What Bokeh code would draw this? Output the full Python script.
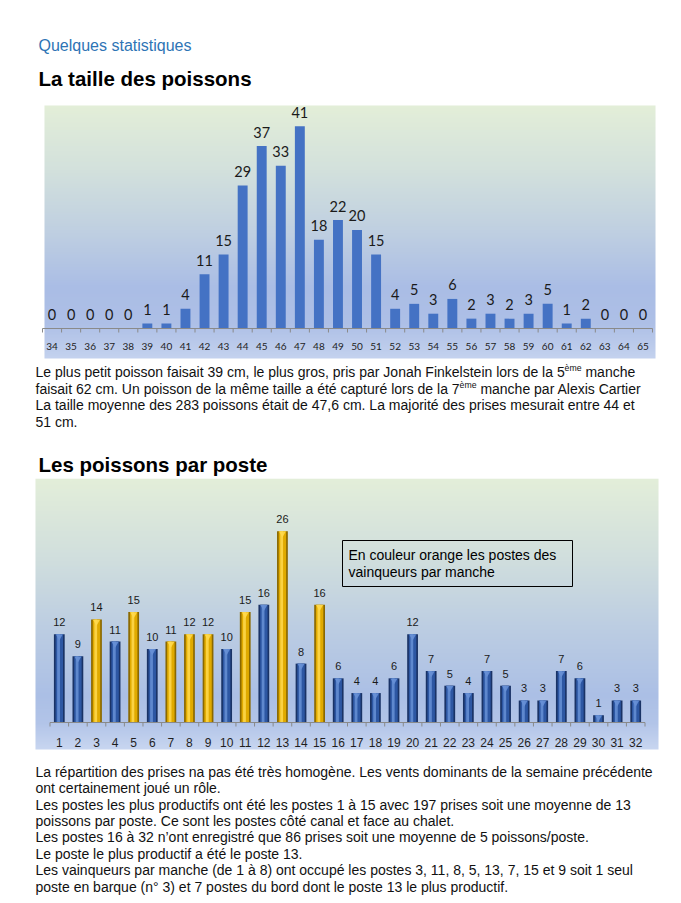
import unicodedata
import numpy as np
from bokeh.plotting import figure
from bokeh.models import Range1d, FactorRange, ColumnDataSource
from bokeh.transform import dodge
from bokeh.layouts import column
from bokeh.core.properties import value
from bokeh.embed import file_html
from bokeh.resources import INLINE

# ---------------- data ----------------
size_cm = ["34", "35", "36", "37", "38", "39", "40", "41", "42", "43", "44", "45", "46", "47", "48", "49",
           "50", "51", "52", "53", "54", "55", "56", "57", "58", "59", "60", "61", "62", "63", "64", "65"]
fish_count = [0, 0, 0, 0, 0, 1, 1, 4, 11, 15, 29, 37, 33, 41, 18, 22,
              20, 15, 4, 5, 3, 6, 2, 3, 2, 3, 5, 1, 2, 0, 0, 0]

postes = ["1", "2", "3", "4", "5", "6", "7", "8", "9", "10", "11", "12", "13", "14", "15", "16",
          "17", "18", "19", "20", "21", "22", "23", "24", "25", "26", "27", "28", "29", "30", "31", "32"]
fish_per_poste = [12, 9, 14, 11, 15, 10, 11, 12, 12, 10, 15, 16, 26, 8, 16, 6,
                  4, 4, 6, 12, 7, 5, 4, 7, 5, 3, 3, 7, 6, 1, 3, 3]
winner_postes = [3, 11, 8, 5, 13, 7, 15, 9]

page_kicker = "Quelques statistiques"
title_sizes = "La taille des poissons"
title_postes = "Les poissons par poste"
note_box = ["En couleur orange les postes des", "vainqueurs par manche"]

para1 = [
    [("Le plus petit poisson faisait 39 cm, le plus gros, pris par Jonah Finkelstein lors de la 5", 0),
     ("ème", 1), (" manche", 0)],
    [("faisait 62 cm. Un poisson de la même taille a été capturé lors de la 7", 0),
     ("ème", 1), (" manche par Alexis Cartier", 0)],
    [("La taille moyenne des 283 poissons était de 47,6 cm. La majorité des prises mesurait entre 44 et", 0)],
    [("51 cm.", 0)],
]
para2 = [
    "La répartition des prises na pas été très homogène. Les vents dominants de la semaine précédente",
    "ont certainement joué un rôle.",
    "Les postes les plus productifs ont été les postes 1 à 15 avec 197 prises soit une moyenne de 13",
    "poissons par poste. Ce sont les postes côté canal et face au chalet.",
    "Les postes 16 à 32 n’ont enregistré que 86 prises soit une moyenne de 5 poissons/poste.",
    "Le poste le plus productif a été le poste 13.",
    "Les vainqueurs par manche (de 1 à 8) ont occupé les postes 3, 11, 8, 5, 13, 7, 15 et 9 soit 1 seul",
    "poste en barque (n° 3) et 7 postes du bord dont le poste 13 le plus productif.",
]

# ---------------- layout constants (page pixels) ----------------
PAGE_W = 680
FL, FR = 30, 664          # common frame left / right for every figure
FONT = "Liberation Sans"
TXT = 14

_w = ([278, 278, 355, 556, 556, 889, 667, 191, 333, 333, 389, 584, 278, 333, 278, 278]
      + [556] * 10
      + [278, 278, 584, 584, 584, 556, 1015]
      + [667, 667, 722, 722, 667, 611, 778, 722, 278, 500, 667, 556, 833, 722, 778, 667, 778, 722, 667,
         611, 722, 667, 944, 667, 667, 611]
      + [278, 278, 278, 469, 556, 333]
      + [556, 556, 500, 556, 556, 278, 556, 556, 222, 222, 500, 222, 833, 556, 556, 556, 556, 333, 500,
         278, 556, 500, 722, 500, 500, 500]
      + [334, 260, 334, 584])
WIDTHS = {chr(32 + i): w for i, w in enumerate(_w)}
WIDTHS["’"] = 222
WIDTHS["°"] = 400


def text_width(s, size):
    tot = 0
    for c in s:
        b = unicodedata.normalize("NFD", c)[0]
        tot += WIDTHS.get(c, WIDTHS.get(b, 556))
    return tot * size / 1000.0


def text_fig(top, h):
    p = figure(width=PAGE_W, height=h, x_range=Range1d(FL, FR), y_range=Range1d(top + h, top),
               x_axis_location=None, y_axis_location=None, toolbar_location=None,
               output_backend="svg", min_border_left=FL, min_border_right=PAGE_W - FR,
               min_border_top=0, min_border_bottom=0, outline_line_color=None)
    p.grid.visible = False
    return p


def put(p, x, y, txt, size, color="#111111", bold=False, font=FONT):
    p.text(x=[x], y=[y], text=[txt], text_font=value(font), text_font_size=f"{size}px",
           text_color=color, text_baseline="middle", text_align="left",
           text_font_style="bold" if bold else "normal")


def put_rich(p, x, y, segs, size):
    for s, sup in segs:
        fs = round(size * 0.62, 1) if sup else size
        lead = len(s) - len(s.lstrip(" "))
        x += text_width(" " * lead, fs)      # SVG drops leading spaces: advance manually
        body = s.lstrip(" ")
        put(p, x, y - 4 if sup else y, body, fs)
        x += text_width(body, fs)


def hex2rgb(h):
    h = h.lstrip("#")
    return [int(h[i:i + 2], 16) for i in (0, 2, 4)]


def gradient(stops, n=300):
    img = np.zeros((n, 1), dtype=np.uint32)
    view = img.view(dtype=np.uint8).reshape((n, 1, 4))
    fr = [s[0] for s in stops]
    cols = np.array([hex2rgb(s[1]) for s in stops], dtype=float)
    for i in range(n):
        t = 1.0 - (i + 0.5) / n  # fraction from top
        for k in range(3):
            view[i, 0, k] = int(round(np.interp(t, fr, cols[:, k])))
        view[i, 0, 3] = 255
    return img


class Chart:
    """Bar chart whose frame spans page x FL..FR and page y top..top+h."""

    def __init__(self, factors, top, h, base, ppu_y, ppu_x):
        self.factors = factors
        self.top, self.h, self.base, self.ppu_y, self.ppu_x = top, h, base, ppu_y, ppu_x
        n = len(factors)
        self.pad = ((FR - FL) - n * ppu_x) / (2 * ppu_x)
        self.yr = (-(top + h - base) / ppu_y, (base - top) / ppu_y)
        p = figure(width=PAGE_W, height=h,
                   x_range=FactorRange(factors=factors, range_padding=self.pad,
                                       range_padding_units="absolute"),
                   y_range=Range1d(*self.yr), y_axis_location=None, x_axis_location="below",
                   toolbar_location=None, output_backend="svg",
                   min_border_left=FL, min_border_right=PAGE_W - FR, min_border_top=0,
                   min_border_bottom=0, outline_line_color=None, border_fill_color="white",
                   background_fill_color="white")
        p.grid.visible = False
        self.p = p
        self.ends = ColumnDataSource(dict(a=[factors[0]], b=[factors[-1]]))

    def xoff(self, x):
        # page x -> offset from the first factor centre (synthetic units)
        return (x - FL) / self.ppu_x - self.pad - 0.5

    def ydat(self, y):
        return (self.base - y) / self.ppu_y

    def background(self, x0, x1, y0, y1, stops):
        p = self.p
        src = ColumnDataSource(dict(a=[self.factors[0]], img=[gradient(stops)]))
        p.image_rgba(image="img", x=dodge("a", self.xoff(x0), range=p.x_range), y=self.ydat(y1),
                     dw=(x1 - x0) / self.ppu_x, dh=(y1 - y0) / self.ppu_y, source=src, level="image")

    def axis(self, font, size, standoff, color, tick_px):
        p = self.p
        ax = p.xaxis[0]
        ax.fixed_location = 0
        ax.axis_line_color = None
        ax.major_tick_line_color = None
        ax.minor_tick_line_color = None
        ax.major_label_standoff = standoff
        ax.major_label_text_font = font
        ax.major_label_text_font_size = size
        ax.major_label_text_color = color
        tl = tick_px / self.ppu_y
        cats = ColumnDataSource(dict(c=self.factors))
        gc = "#8a8a8a"
        p.segment(x0=dodge("a", -0.5, range=p.x_range), y0=0, x1=dodge("b", 0.5, range=p.x_range), y1=0,
                  source=self.ends, line_color=gc, line_width=1)
        p.segment(x0=dodge("c", -0.5, range=p.x_range), y0=0, x1=dodge("c", -0.5, range=p.x_range),
                  y1=-tl, source=cats, line_color=gc, line_width=1)
        p.segment(x0=dodge("b", 0.5, range=p.x_range), y0=0, x1=dodge("b", 0.5, range=p.x_range),
                  y1=-tl, source=self.ends, line_color=gc, line_width=1)


# ---------------- header (page y 0..104) ----------------
f1 = text_fig(0, 104)
put(f1, 38, 45, page_kicker, 16, color="#2e74b5")
put(f1, 38, 78, title_sizes, 20.5, color="#000000", bold=True)

# ---------------- chart 1 : sizes (page y 104..360) ----------------
c1 = Chart(size_cm, 104, 256, 328, 4.93, 610 / 32)
p1 = c1.p
c1.background(44, 655, 105, 358,
              [(0.0, "#e3eed8"), (0.25, "#d3e1dc"), (0.5, "#bfcfe1"), (0.72, "#aabde5"),
               (0.86, "#adbfe6"), (1.0, "#c4d2ee")])
src1 = ColumnDataSource(dict(cat=size_cm, n=fish_count, lab=[str(v) for v in fish_count]))
p1.vbar(x="cat", top="n", width=0.52, source=src1, fill_color="#4472c4", line_color=None)
p1.text(x="cat", y="n", text="lab", source=src1, y_offset=-14, text_align="center",
        text_baseline="middle", text_font=value("Lato"), text_font_size="14.5px", text_color="#1a1a1a")
c1.axis("Lato", "10px", 8, "#1e1e1e", 4)

# ---------------- paragraph 1 (page y 360..478) ----------------
f3 = text_fig(360, 118)
for yy, segs in zip([371, 388, 404, 421], para1):
    put_rich(f3, 35, yy, segs, TXT)
put(f3, 38, 464, title_postes, 20.5, color="#000000", bold=True)

# ---------------- chart 2 : postes (page y 478..750) ----------------
c2 = Chart(postes, 478, 272, 722, 7.36, 595 / 32)
p2 = c2.p
c2.background(35, 658, 478, 749,
              [(0.0, "#e3eed9"), (0.3, "#d0dedd"), (0.55, "#bccde2"), (0.8, "#abbfe5"),
               (0.9, "#b2c4e8"), (1.0, "#c8d6f0")])
is_win = [int(c) in winner_postes for c in postes]
src2 = ColumnDataSource(dict(
    cat=postes, n=fish_per_poste, lab=[str(v) for v in fish_per_poste],
    edge=["#8a6800" if w else "#1a3366" for w in is_win],
    mid=["#e0aa00" if w else "#2d57a3" for w in is_win],
    hi=["#ffd94d" if w else "#6790d6" for w in is_win],
))
p2.vbar(x="cat", top="n", width=0.58, source=src2, fill_color="edge", line_color=None)
p2.vbar(x="cat", top="n", width=0.40, source=src2, fill_color="mid", line_color=None)
p2.vbar(x=dodge("cat", -0.04, range=p2.x_range), top="n", width=0.15, source=src2,
        fill_color="hi", fill_alpha=0.85, line_color=None)
p2.scatter(x="cat", y=dodge("n", -0.3), source=src2, marker="inverted_triangle", size=7,
           fill_color="hi", fill_alpha=0.9, line_color=None)
p2.text(x="cat", y="n", text="lab", source=src2, y_offset=-12, text_align="center",
        text_baseline="middle", text_font=value(FONT), text_font_size="11px", text_color="#1a1a1a")
c2.axis(FONT, "12px", 9, "#1f1f1f", 4)
# note box (page pixels 342..572 x 540..586)
p2.quad(left=dodge("a", c2.xoff(342), range=p2.x_range), right=dodge("a", c2.xoff(572), range=p2.x_range),
        top=c2.ydat(540), bottom=c2.ydat(586), source=c2.ends,
        fill_color=None, line_color="#000000", line_width=1)
box_src = ColumnDataSource(dict(a=[postes[0], postes[0]], y=[c2.ydat(554), c2.ydat(571)], t=note_box))
p2.text(x=dodge("a", c2.xoff(348), range=p2.x_range), y="y", text="t", source=box_src,
        text_font=value(FONT), text_font_size="14px", text_color="#000000", text_baseline="middle")

# ---------------- paragraph 2 (page y 750..902) ----------------
f5 = text_fig(750, 152)
for yy, line in zip([771, 787, 804, 820, 836, 853, 869, 886], para2):
    put(f5, 35, yy, line, TXT)

layout = column(f1, p1, f3, p2, f5, spacing=0)
open("out.html", "w").write(file_html(layout, INLINE))
